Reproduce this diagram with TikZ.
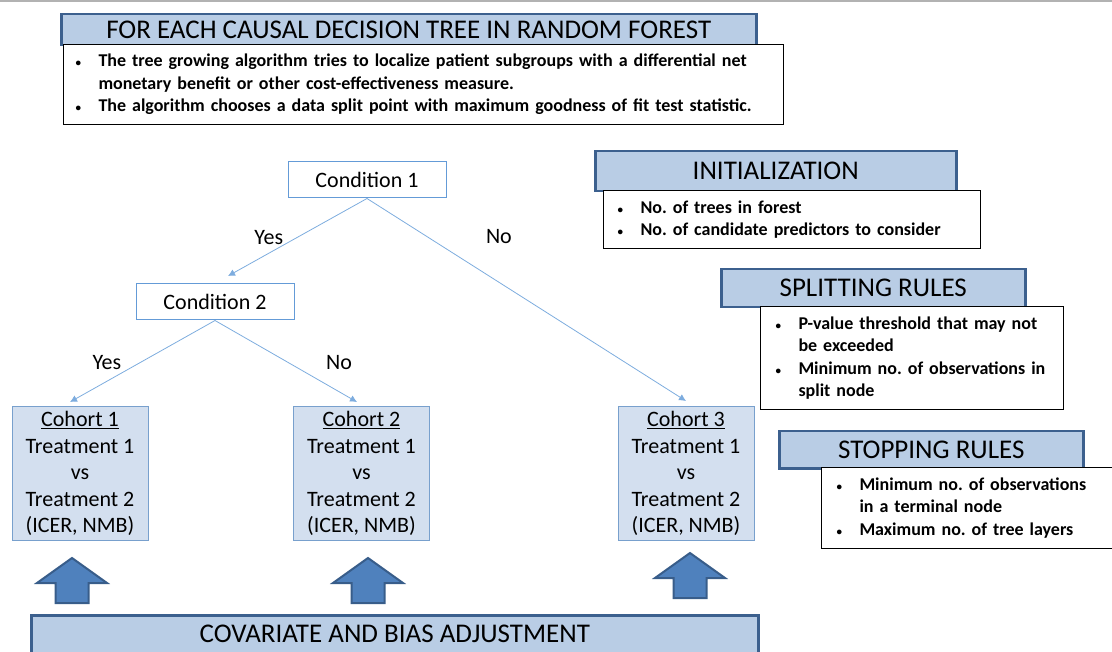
\documentclass[tikz,border=0pt]{standalone}
\usepackage{fontspec}
\setmainfont{Carlito}
\usetikzlibrary{positioning,arrows.meta}

\definecolor{hdrfill}{RGB}{185,205,229}
\definecolor{hdrline}{RGB}{60,96,142}
\definecolor{condline}{RGB}{100,155,215}
\definecolor{cohortfill}{RGB}{211,223,239}
\definecolor{cohortline}{RGB}{120,160,205}
\definecolor{treeline}{RGB}{125,172,222}
\definecolor{arrfill}{RGB}{79,129,189}
\definecolor{arrline}{RGB}{56,93,138}

\newcommand{\bul}{\makebox[23pt][l]{\fontsize{11}{11}\selectfont\textbullet}}
\newcommand{\ind}{\hspace*{23pt}}

\begin{document}
\frenchspacing
\begin{tikzpicture}[%
	x=1pt, y=-1pt,
	>={Latex[length=7pt,width=7pt]},
	hdr/.style={draw=hdrline, line width=2.5pt, fill=hdrfill, inner sep=0pt,
		anchor=north west, font=\fontsize{27}{30}\selectfont},
	box/.style={draw=black, line width=1pt, fill=white, align=left, anchor=north west,
		font=\bfseries\fontsize{18}{22.5}\selectfont},
	cond/.style={draw=condline, line width=1pt, fill=white, inner sep=0pt,
		minimum width=158, minimum height=36, font=\fontsize{22}{24}\selectfont},
	cohort/.style={draw=cohortline, line width=1pt, fill=cohortfill, align=center,
		minimum width=136, minimum height=133, inner sep=0pt,
		font=\fontsize{22}{26.5}\selectfont},
	tree/.style={->, draw=treeline, line width=0.8pt},
	lbl/.style={font=\fontsize{22}{24}\selectfont, inner sep=0pt},
	uparrow/.pic={\draw[fill=arrfill, draw=arrline, line width=2pt, line join=miter]
		(0,0) -- (35,25) -- (16.5,25) -- (16.5,45) -- (-16.5,45) -- (-16.5,25) -- (-35,25) -- cycle;}
	]
	\useasboundingbox (0,0) rectangle (1112,652);
	\clip (0,0) rectangle (1112,652);
	\draw[gray!60, line width=2pt] (0,1) -- (1112,1);
	
	% random forest header
	\node[hdr, minimum width=695, minimum height=31] (foresthdr) at (60,13)
		{FOR EACH CAUSAL DECISION TREE IN RANDOM FOREST};
	\node[box, minimum height=80, inner xsep=12pt, text width=696] (forestbox) at (63,44)
		{\bul The tree growing algorithm tries to localize patient subgroups with a differential net\\
		 \ind monetary benefit or other cost-effectiveness measure.\\
		 \bul The algorithm chooses a data split point with maximum goodness of fit test statistic.};
	
	% parameter panels
	\node[hdr, minimum width=361, minimum height=40] (inithdr) at (594,150) {INITIALIZATION};
	\node[box, minimum height=58, inner xsep=14pt, text width=349] (initbox) at (603,190)
		{\bul No. of trees in forest\\
		 \bul No. of candidate predictors to consider};
	
	\node[hdr, minimum width=304, minimum height=38] (splithdr) at (720,268) {SPLITTING RULES};
	\node[box, minimum height=103, inner xsep=15pt, text width=273] (splitbox) at (760,306)
		{\bul P-value threshold that may not\\
		 \ind be exceeded\\
		 \bul Minimum no. of observations in\\
		 \ind split node};
	
	\node[hdr, minimum width=304, minimum height=37] (stophdr) at (778,430) {STOPPING RULES};
	\node[box, minimum height=81, inner xsep=15pt, text width=290] (stopbox) at (821,467)
		{\bul Minimum no. of observations\\
		 \ind in a terminal node\\
		 \bul Maximum no. of tree layers};
	
	% tree
	\node[cond] (cond1) at (367,180) {Condition 1};
	\node[cond] (cond2) at (215,302) {Condition 2};
	
	\node[cohort] (cohort1) at (80,473.5)
		{\underline{Cohort 1}\\Treatment 1\\vs\\Treatment 2\\(ICER, NMB)};
	\node[cohort] (cohort2) at (361.5,473.5)
		{\underline{Cohort 2}\\Treatment 1\\vs\\Treatment 2\\(ICER, NMB)};
	\node[cohort] (cohort3) at (686,473.5)
		{\underline{Cohort 3}\\Treatment 1\\vs\\Treatment 2\\(ICER, NMB)};
	
	\coordinate (yes1) at (228,276);
	\coordinate (no1) at (686,401);
	\coordinate (yes2) at (70,402);
	\coordinate (no2) at (357,402);
	
	\path (cond1.south) edge[tree] node[lbl, midway, left=14pt] {Yes} (yes1)
	(cond1.south) edge[tree] node[lbl, pos=0.19, right=58pt] {No} (no1)
	(cond2.south) edge[tree] node[lbl, pos=0.52, left=18pt] {Yes} (yes2)
	(cond2.south) edge[tree] node[lbl, pos=0.52, right=37pt] {No} (no2)
	;
	
	% adjustment
	\pic at (72,558) {uparrow};
	\pic at (368,558) {uparrow};
	\pic at (690,553) {uparrow};
	\node[hdr, minimum width=727, minimum height=46] (adjust) at (30,614)
		{\raisebox{9pt}{COVARIATE AND BIAS ADJUSTMENT}};
\end{tikzpicture}
\end{document}
